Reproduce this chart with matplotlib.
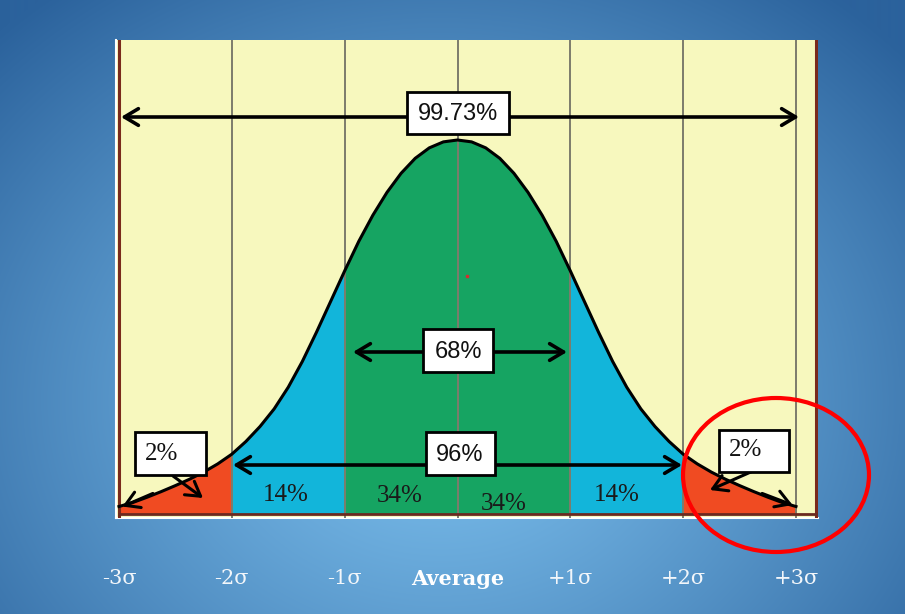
import numpy as np
import matplotlib
matplotlib.use("Agg")
import matplotlib.pyplot as plt
from matplotlib.patches import Rectangle, Ellipse
from matplotlib.colors import to_rgb

# bell curve heights (fraction of the peak), right half,
# mirrored for the left half
half_sigma = np.linspace(0, 3, 25)
half_height = [1.000, 0.995, 0.979, 0.951, 0.911, 0.860, 0.799, 0.729, 0.650,
               0.568, 0.486, 0.408, 0.339, 0.281, 0.234, 0.194, 0.160, 0.134,
               0.112, 0.093, 0.076, 0.060, 0.045, 0.031, 0.020]

tick_pos = [-3, -2, -1, 0, 1, 2, 3]
tick_labels = ['-3σ', '-2σ', '-1σ', 'Average', '+1σ', '+2σ', '+3σ']

bands = [(-3, -2), (-2, -1), (-1, 1), (1, 2), (2, 3)]
band_colors = ['#F04B22', '#12B5DA', '#16A462', '#12B5DA', '#F04B22']

area_labels = ['14%', '34%', '34%', '14%']
span_labels = ['99.73%', '68%', '96%']
tail_label = '2%'

x = np.concatenate([-half_sigma[::-1], half_sigma[1:]])
y = np.concatenate([half_height[::-1], half_height[1:]])

W, H = 905, 614
fig = plt.figure(figsize=(W / 100, H / 100), dpi=100)

# blue radial background
bg = fig.add_axes([0, 0, 1, 1])
yy, xx = np.mgrid[0:H, 0:W]
d = np.sqrt(((xx - 440) / 480.0) ** 2 + ((yy - 400) / 400.0) ** 2)
t = np.clip(d / 1.3, 0, 1) ** 1.2
light = np.array(to_rgb('#7CC0EE'))
dark = np.array(to_rgb('#2B629C'))
img = light[None, None, :] * (1 - t[..., None]) + dark[None, None, :] * t[..., None]
bg.imshow(img, aspect='auto', extent=[0, W, H, 0])
bg.axis('off')

# pixel -> data helpers for the layout
X0, SX, Y0, SY = 457.5, 112.83, 514.0, 374.0
def dx(p):
    return (p - X0) / SX
def dy(p):
    return (Y0 - p) / SY

ax = fig.add_axes([116 / W, (H - 518) / H, (818 - 116) / W, (518 - 40) / H])
ax.set_facecolor('#F7F8BE')
ax.set_xlim(dx(116), dx(818))
ax.set_ylim(dy(518), dy(40))
for s in ['top', 'right']:
    ax.spines[s].set_visible(False)
for s in ['left', 'bottom']:
    ax.spines[s].set_color('white')
    ax.spines[s].set_linewidth(1.5)

# coloured areas under the curve
for (a, b), c in zip(bands, band_colors):
    m = (x >= a) & (x <= b)
    ax.fill_between(x[m], 0, y[m], color=c, lw=0, zorder=2)

# grid lines
for p in tick_pos[1:]:
    ax.axvline(p, color='#7C7C6C', lw=1.4, zorder=3)
ax.axvline(-3, color='#7A2A1C', lw=2.2, zorder=3)
ax.axvline(dx(816), color='#7A2A1C', lw=2.2, zorder=3)
ax.plot([-3, dx(816)], [0, 0], color='#6B2A20', lw=2, zorder=3)

ax.plot(x, y, color='black', lw=2.2, zorder=4, solid_joinstyle='round')
ax.plot(dx(467), dy(276), 's', color='#D03030', ms=2, zorder=4)

arrow = dict(arrowstyle='<->,head_length=0.5,head_width=0.3', lw=2.6,
             color='black', shrinkA=0, shrinkB=0, mutation_scale=20)
one_way = dict(arrow, arrowstyle='->,head_length=0.5,head_width=0.3', lw=2.2)

def box(x0, x1, y0, y1, label, tx, ty, family, size):
    ax.add_patch(Rectangle((dx(x0), dy(y1)), dx(x1) - dx(x0), dy(y0) - dy(y1),
                           fc='white', ec='black', lw=2, zorder=6))
    ax.text(dx(tx), dy(ty), label, ha='center', va='center', fontsize=size,
            family=family, color='#111111', zorder=7)

# span arrows with their boxes
ax.annotate('', xy=(dx(121), dy(117)), xytext=(dx(799), dy(117)), arrowprops=arrow, zorder=5)
box(406.7, 509, 92, 134, span_labels[0], 458, 114, 'Liberation Sans', 17)
ax.annotate('', xy=(dx(353), dy(352)), xytext=(dx(567), dy(352)), arrowprops=arrow, zorder=5)
box(423, 493, 329, 372, span_labels[1], 458, 352, 'Liberation Sans', 17)
ax.annotate('', xy=(dx(233), dy(465)), xytext=(dx(682), dy(465)), arrowprops=arrow, zorder=5)
box(426, 495, 432, 475, span_labels[2], 460, 455, 'Liberation Sans', 17)

# tails
ax.annotate('', xy=(dx(203), dy(498)), xytext=(dx(173), dy(476)), arrowprops=one_way, zorder=5)
ax.annotate('', xy=(-2.97, 0.02), xytext=(-2.7, 0.055), arrowprops=one_way, zorder=5)
box(135, 206, 432, 475, tail_label, 162, 454, 'Liberation Serif', 18)
ax.annotate('', xy=(dx(710), dy(490)), xytext=(dx(753), dy(471)), arrowprops=one_way, zorder=5)
ax.annotate('', xy=(2.97, 0.024), xytext=(2.7, 0.055), arrowprops=one_way, zorder=5)
box(719, 789, 430, 472, tail_label, 746, 450, 'Liberation Serif', 18)

# area percentages
for lab, px, py in zip(area_labels, [286, 400, 504, 617], [495, 496, 504, 495]):
    ax.text(dx(px), dy(py), lab, ha='center', va='center', fontsize=18,
            family='Liberation Serif', color='#1A1A1A', zorder=7)

ax.set_yticks([])
ax.set_xticks(tick_pos)
ax.set_xticklabels(tick_labels, fontsize=15, family='DejaVu Serif', color='#F2F6FA')
ax.tick_params(axis='x', length=0, pad=37)
for lbl in ax.get_xticklabels():
    if lbl.get_text() == 'Average':
        lbl.set_fontweight('bold')
        lbl.set_color('white')

fig.add_artist(Ellipse((776 / W, 1 - 475 / H), 186 / W, 154 / H, transform=fig.transFigure,
                       fill=False, ec='#FF0000', lw=3, zorder=10))

fig.savefig('out.png', dpi=100)
